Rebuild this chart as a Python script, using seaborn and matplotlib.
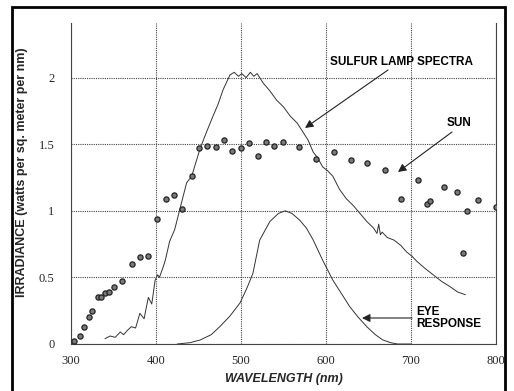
import numpy as np
import pandas as pd
import matplotlib
matplotlib.use("Agg")
import matplotlib.pyplot as plt
import seaborn as sns
from matplotlib.patches import Rectangle

# --- data ---
sun_wl = [303, 311, 315, 321, 325, 332, 335, 340, 345, 350, 360, 372, 381, 391,
          401, 412, 421, 431, 442, 451, 460, 470, 480, 489, 500, 509, 520, 529,
          539, 549, 568, 588, 609, 629, 648, 669, 688, 708, 719, 722, 739, 754,
          761, 766, 779, 800]
sun_irr = [0.02, 0.06, 0.13, 0.20, 0.25, 0.35, 0.35, 0.38, 0.39, 0.43, 0.47, 0.60,
           0.65, 0.66, 0.94, 1.09, 1.12, 1.01, 1.26, 1.47, 1.49, 1.48, 1.53, 1.45,
           1.47, 1.51, 1.41, 1.52, 1.49, 1.52, 1.48, 1.39, 1.44, 1.38, 1.36, 1.31,
           1.09, 1.23, 1.05, 1.07, 1.18, 1.14, 0.68, 1.00, 1.08, 1.03]

lamp_wl = [340, 346, 352, 358, 362, 366, 371, 376, 381, 386, 391, 395, 399, 402,
           404, 408, 411, 416, 422, 428, 436, 442, 452, 460, 467, 473, 479, 487,
           492, 497, 501, 506, 511, 515, 519, 526, 534, 542, 550, 558, 566, 573,
           579, 585, 590, 596, 602, 608, 616, 624, 632, 640, 648, 656, 660, 662,
           664, 666, 672, 680, 688, 695, 701, 707, 716, 726, 736, 746, 755, 764]
lamp_irr = [0.04, 0.06, 0.05, 0.09, 0.07, 0.10, 0.13, 0.12, 0.23, 0.19, 0.35, 0.30,
            0.48, 0.52, 0.50, 0.57, 0.63, 0.77, 0.86, 1.01, 1.21, 1.26, 1.47, 1.60,
            1.71, 1.80, 1.91, 2.02, 2.04, 2.01, 2.03, 2.00, 2.04, 2.01, 2.03, 1.96,
            1.90, 1.83, 1.78, 1.71, 1.66, 1.59, 1.53, 1.44, 1.40, 1.33, 1.30, 1.26,
            1.16, 1.09, 1.04, 0.98, 0.92, 0.87, 0.83, 0.90, 0.82, 0.84, 0.80, 0.78,
            0.74, 0.69, 0.66, 0.62, 0.57, 0.52, 0.47, 0.43, 0.39, 0.37]

eye_wl = [425, 440, 452, 465, 475, 487, 499, 507, 514, 522, 534, 544, 552, 560,
          569, 577, 585, 596, 608, 618, 628, 638, 648, 658, 667, 676, 684, 700]
eye_irr = [0.0, 0.01, 0.03, 0.07, 0.13, 0.21, 0.31, 0.42, 0.53, 0.78, 0.92, 0.98,
           1.0, 0.98, 0.93, 0.87, 0.78, 0.63, 0.48, 0.38, 0.28, 0.20, 0.13, 0.07,
           0.03, 0.01, 0.0, 0.0]

x_ticks = [300, 400, 500, 600, 700, 800]
y_ticks = [0, 0.5, 1, 1.5, 2]
y_tick_labels = ["0", "0.5", "1", "1.5", "2"]

sun_df = pd.DataFrame({"wl": sun_wl, "irr": sun_irr})
lamp_df = pd.DataFrame({"wl": lamp_wl, "irr": lamp_irr})
eye_df = pd.DataFrame({"wl": eye_wl, "irr": eye_irr})

sns.set_style("white")
plt.rcParams["font.family"] = ["DejaVu Sans"]

fig = plt.figure(figsize=(5.14, 3.91), dpi=100)
ax = fig.add_axes([71 / 514, 1 - 344 / 391, 425 / 514, 321 / 391])

sns.lineplot(data=lamp_df, x="wl", y="irr", ax=ax, color="#333333", lw=0.7,
             sort=False, estimator=None)
sns.lineplot(data=eye_df, x="wl", y="irr", ax=ax, color="#333333", lw=0.7,
             sort=False, estimator=None)
sns.scatterplot(data=sun_df, x="wl", y="irr", ax=ax, marker="o", s=14,
                color="#7a7a7a", edgecolor="#222222", linewidth=0.9, zorder=5)

ax.set_xlim(300, 800)
ax.set_ylim(0, 2.41)
ax.set_xticks(x_ticks)
ax.set_xticklabels([str(t) for t in x_ticks], family="Liberation Serif", fontsize=9)
ax.set_yticks(y_ticks)
ax.set_yticklabels(y_tick_labels, family="Liberation Serif", fontsize=9)
ax.tick_params(axis="x", length=0, pad=8)
ax.tick_params(axis="y", length=0, pad=12)
ax.grid(True, color="#444444", lw=0.8, ls=(0, (1, 1)))
ax.spines["top"].set_visible(False)
for s in ["left", "right", "bottom"]:
    ax.spines[s].set_color("#444444")
    ax.spines[s].set_linestyle((0, (1, 1)))
    ax.spines[s].set_linewidth(0.8)

ax.set_xlabel("WAVELENGTH (nm)", fontsize=9, fontweight="bold", style="italic",
              family="Liberation Sans", labelpad=4)
ax.set_ylabel("IRRADIANCE (watts per sq. meter per nm)", fontsize=9,
              fontweight="bold", family="Liberation Sans")
ax.yaxis.set_label_coords((28 - 71) / 425, (344 - 172) / 321)

tkw = dict(fontsize=8.5, fontweight="bold", family="Liberation Sans", color="black")
fig.text(330 / 514, 1 - 62 / 391, "SULFUR LAMP SPECTRA",
         va="center", ha="left", **tkw)
fig.text(447 / 514, 1 - 123 / 391, "SUN", va="center", ha="left", **tkw)
fig.text(416 / 514, 1 - 318 / 391, "EYE\nRESPONSE", va="center", ha="left",
         linespacing=1.1, **tkw)


def fig_to_data(px, py):
    return ax.transData.inverted().transform((px, 391 - py))


arrowprops = dict(arrowstyle="-|>", color="#222222", lw=0.8,
                  mutation_scale=12, shrinkA=0, shrinkB=0)
for (tx, ty), (hx, hy) in [((388, 70), (305, 128)),
                           ((452, 132), (398, 172)),
                           ((412, 318), (362, 318))]:
    ax.annotate("", xy=fig_to_data(hx, hy), xytext=fig_to_data(tx, ty),
                arrowprops=arrowprops, annotation_clip=False)

fig.patches.append(Rectangle((12 / 514, -0.05), (505 - 12) / 514, 1 - 7 / 391 + 0.05,
                             transform=fig.transFigure, fill=False,
                             edgecolor="black", lw=2.0))

fig.savefig("out.png", dpi=100)
